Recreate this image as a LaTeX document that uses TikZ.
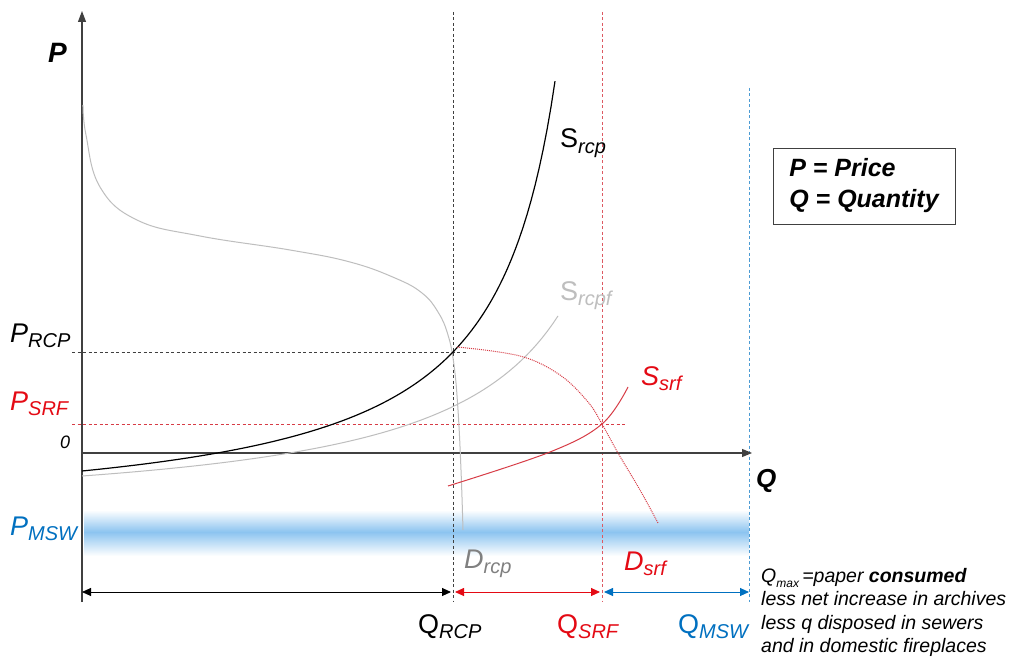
\documentclass[tikz,border=0pt]{standalone}
\usepackage{fontspec}
\setmainfont{Liberation Sans}
\usetikzlibrary{arrows.meta,positioning}

\definecolor{axisgray}{RGB}{64,64,64}
\definecolor{mswblue}{RGB}{0,112,192}
\definecolor{srfred}{RGB}{228,10,20}
\definecolor{curvered}{RGB}{215,60,70}
\definecolor{lightcurve}{RGB}{190,190,190}
\definecolor{labelgray}{RGB}{128,128,128}
\definecolor{bandblue}{RGB}{140,196,240}

% label with a lowered subscript
\newcommand{\sublbl}[2]{#1\raisebox{-0.22em}{\fontsize{20}{22}\selectfont\itshape #2}}

\begin{document}
\begin{tikzpicture}[x=1pt,y=-1pt,
    axis/.style={draw=axisgray, line width=1.1pt},
    guide/.style={dash pattern=on 3pt off 2.5pt, line width=1pt},
    span/.style={line width=0.9pt, {Triangle[length=9pt,width=8pt]}-{Triangle[length=9pt,width=8pt]}},
    lbl/.style={anchor=base west, inner sep=0pt, font=\fontsize{27}{30}\selectfont}]
    \fill[white] (0,0) rectangle (1011,668);
    \useasboundingbox (0,0) rectangle (1011,668);

    % MSW band
    \shade[top color=white, bottom color=bandblue] (84,510) rectangle (749,532);
    \shade[top color=bandblue, bottom color=white] (84,532) rectangle (749,556);

    \coordinate (O) at (82,453);
    \coordinate (Ptop) at (82,11);
    \coordinate (Pbot) at (82,602);
    \coordinate (Qend) at (752,453);
    \coordinate (rcpTop) at (453,12);
    \coordinate (rcpBot) at (453,602);
    \coordinate (srfTop) at (602,12);
    \coordinate (srfBot) at (602,602);
    \coordinate (mswTop) at (749,88);
    \coordinate (mswBot) at (749,602);
    \coordinate (pRCPl) at (72,352);
    \coordinate (pRCPr) at (467,352);
    \coordinate (pSRFl) at (72,424);
    \coordinate (pSRFr) at (625,424);

    % guides
    \draw[guide, draw=axisgray] (rcpTop) -- (rcpBot);
    \draw[guide, draw=curvered!85] (srfTop) -- (srfBot);
    \draw[guide, draw=mswblue!70] (mswTop) -- (mswBot);
    \draw[guide, draw=axisgray] (pRCPl) -- (pRCPr);
    \draw[guide, draw=curvered] (pSRFl) -- (pSRFr);

    % axes
    \draw[axis, -{Triangle[length=11pt,width=8pt]}] (Pbot) -- (Ptop);
    \draw[axis, -{Triangle[length=10pt,width=8pt]}] (O) -- (Qend);

    % curves
    \draw[lightcurve, line width=1pt] plot[smooth, tension=0.7] coordinates
        {(83,105) (86,135) (100,187) (137,220) (200,236) (290,250) (350,262)
         (395,278) (422,293) (438,312) (448,335) (454,365) (458,410) (461,470) (463,530)};
    \draw[lightcurve, line width=1pt] plot[domain=82:558, samples=90]
        (\x, {476 - 26.985*(1000/(690-\x) - 1.645)});
    \draw[black, line width=1.2pt] plot[domain=82:555, samples=120]
        (\x, {471 - 28.82*(1000/(620-\x) - 1.8587)});
    \draw[curvered, line width=1pt] plot[smooth, tension=0.6] coordinates
        {(448,486) (550,452) (602,424) (628,387)};
    \draw[curvered, line width=1pt, densely dotted] plot[smooth, tension=0.6] coordinates
        {(457,347) (520,356) (560,375) (588,402) (602,424) (618,453) (640,490) (658,523)};

    % quantity spans
    \coordinate (sA) at (82,592);
    \coordinate (sB) at (451,592);
    \coordinate (sC) at (455,592);
    \coordinate (sD) at (600,592);
    \coordinate (sE) at (604,592);
    \coordinate (sF) at (749,592);
    \draw[span, black] (sA) -- (sB);
    \draw[span, srfred] (sC) -- (sD);
    \draw[span, mswblue] (sE) -- (sF);

    % labels
    \node[lbl, font=\fontsize{28}{30}\selectfont\bfseries\itshape] (plbl) at (48,63) {P};
    \node[lbl, font=\fontsize{26}{30}\selectfont\bfseries\itshape] (qlbl) at (756,487) {Q};
    \node[lbl, font=\fontsize{18}{20}\selectfont\itshape] (zero) at (60,448) {0};
    \node[lbl] (pRCP) at (10,342) {\itshape\sublbl{P}{RCP}};
    \node[lbl, text=srfred] (pSRF) at (10,410) {\itshape\sublbl{P}{SRF}};
    \node[lbl, text=mswblue] (pMSW) at (10,535) {\itshape\sublbl{P}{MSW}};
    \node[lbl] (sRCP) at (560,148) {\sublbl{S}{rcp}};
    \node[lbl, text=lightcurve] (sRCPF) at (560,300) {\sublbl{S}{rcpf}};
    \node[lbl, text=srfred] (sSRF) at (641,385) {\itshape\sublbl{S}{srf}};
    \node[lbl, text=labelgray] (dRCP) at (464,568) {\itshape\sublbl{D}{rcp}};
    \node[lbl, text=srfred] (dSRF) at (624,570) {\itshape\sublbl{D}{srf}};
    \node[lbl] (qRCP) at (418,633) {\sublbl{Q}{RCP}};
    \node[lbl, text=srfred] (qSRF) at (557,633) {\sublbl{Q}{SRF}};
    \node[lbl, text=mswblue] (qMSW) at (678,633) {\sublbl{Q}{MSW}};

    % legend and note
    \node[draw=axisgray, line width=0.9pt, minimum width=182pt, minimum height=76pt,
          align=left, inner xsep=12pt, font=\fontsize{25}{31}\selectfont\bfseries\itshape]
          (legend) at (864,186) {P = Price\\Q = Quantity};
    \node[anchor=north west, inner sep=0pt, align=left,
          font=\fontsize{19.5}{23.5}\selectfont\itshape] (note) at (761,568)
          {Q\raisebox{-0.25em}{\fontsize{12}{12}\selectfont max}\,=paper \textbf{consumed}\\
           less net increase in archives\\
           less q disposed in sewers\\
           and in domestic fireplaces};
\end{tikzpicture}
\end{document}
